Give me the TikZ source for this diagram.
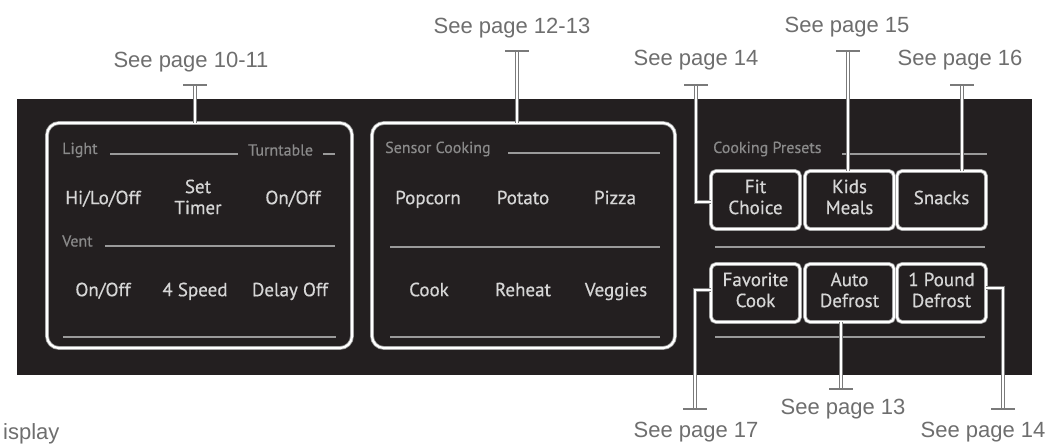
\documentclass[tikz,border=0pt]{standalone}
\usepackage{fontspec}
\setmainfont{Liberation Sans}
\newfontfamily\panelfont[FakeBold=0.5]{PT Sans}
\usepackage{tikz}
\usetikzlibrary{positioning}
\pgfdeclarelayer{nodelayer}
\pgfdeclarelayer{edgelayer}
\pgfsetlayers{nodelayer,edgelayer,main}
\definecolor{panelblack}{HTML}{231F20}
\definecolor{keygray}{HTML}{D6D6D6}
\definecolor{headgray}{HTML}{8A8A8A}
\definecolor{rulegray}{HTML}{9A9A9A}
\definecolor{rimgray}{HTML}{9C9C9C}
\definecolor{notegray}{HTML}{6E6E6E}
\definecolor{leadgray}{HTML}{7A7A7A}

\begin{document}
\begin{tikzpicture}[x=1pt, y=-1pt,
  note/.style={text=notegray, font=\fontsize{22}{24}\selectfont, inner sep=0pt},
  key/.style={text=keygray, font=\panelfont\fontsize{19}{21}\selectfont, align=center, inner sep=0pt,
    execute at begin node=\strut, execute at end node=\strut},
  head/.style={text=headgray, font=\panelfont\fontsize{16}{18}\selectfont, inner sep=0pt, anchor=west},
  rim/.style={draw=rimgray, double=white, double distance=2.2pt, line width=0.8pt},
  groupbox/.style={rim, rounded corners=12pt, minimum height=225pt},
  button/.style={rim, rounded corners=5pt, minimum width=89pt, minimum height=58pt,
    text=keygray, font=\panelfont\fontsize{19}{21}\selectfont, align=center, inner sep=0pt,
    execute at begin node=\strut, execute at end node=\strut},
  leader/.style={draw=leadgray, double=white, double distance=1.8pt, line width=1.1pt},
  tbar/.style={leadgray, line width=2.6pt},
  divider/.style={rulegray, line width=1.2pt}]
  \useasboundingbox (0, 0) rectangle (1058, 446);
  \begin{pgfonlayer}{nodelayer}
    \node [fill=panelblack, minimum width=1015pt, minimum height=276pt, inner sep=0pt] (0) at (524.5, 237) {};
    % dividers
    \draw [divider] (110, 154) -- (238, 154);
    \draw [divider] (323, 154) -- (335, 154);
    \draw [divider] (105, 246) -- (335, 246);
    \draw [divider] (63, 337) -- (336, 337);
    \draw [divider] (508, 153) -- (660, 153);
    \draw [divider] (390, 247) -- (660, 247);
    \draw [divider] (390, 337) -- (660, 337);
    \draw [divider] (842, 154) -- (987, 154);
    \draw [divider] (715, 247) -- (985, 247);
    \draw [divider] (715, 337) -- (985, 337);
    % boxes
    \node [groupbox, minimum width=305pt] (1) at (199.5, 235.5) {};
    \node [groupbox, minimum width=303pt] (2) at (523.5, 235.5) {};
    \node [button] (3) at (755.5, 200) {Fit\\Choice};
    \node [button] (4) at (849.5, 200) {Kids\\Meals};
    \node [button] (5) at (941.5, 200) {Snacks};
    \node [button] (6) at (755.5, 293) {Favorite\\Cook};
    \node [button] (7) at (849.5, 293) {Auto\\Defrost};
    \node [button] (8) at (941.5, 293) {1 Pound\\Defrost};
    % headers
    \node [head] (9) at (62, 150) {Light};
    \node [head] (10) at (248, 150) {Turntable};
    \node [head] (11) at (62, 241) {Vent};
    \node [head] (12) at (385, 149) {Sensor Cooking};
    \node [head] (13) at (713, 149) {Cooking Presets};
    % keys
    \node [key] (14) at (103, 200) {Hi/Lo/Off};
    \node [key] (15) at (198, 200) {Set\\Timer};
    \node [key] (16) at (293, 200) {On/Off};
    \node [key] (17) at (103, 292) {On/Off};
    \node [key] (18) at (195, 292) {4 Speed};
    \node [key] (19) at (290, 292) {Delay Off};
    \node [key] (20) at (428, 200) {Popcorn};
    \node [key] (21) at (523, 200) {Potato};
    \node [key] (22) at (615, 200) {Pizza};
    \node [key] (23) at (429, 292) {Cook};
    \node [key] (24) at (523, 292) {Reheat};
    \node [key] (25) at (616, 292) {Veggies};
    % page notes
    \node [note] (26) at (191, 62) {See page 10-11};
    \node [note] (27) at (512, 28) {See page 12-13};
    \node [note] (28) at (696, 60) {See page 14};
    \node [note] (29) at (847, 27) {See page 15};
    \node [note] (30) at (960, 60) {See page 16};
    \node [note] (31) at (696, 432) {See page 17};
    \node [note] (32) at (843, 409) {See page 13};
    \node [note] (33) at (983, 432) {See page 14};
    \node [note, anchor=west] (34) at (3, 434) {isplay};
    % tee ends
    \coordinate (35) at (195, 85);
    \coordinate (36) at (517, 51);
    \coordinate (37) at (696, 85);
    \coordinate (38) at (848, 51);
    \coordinate (39) at (962, 85);
    \coordinate (40) at (695, 409);
    \coordinate (41) at (841, 389);
    \coordinate (42) at (1003, 409);
  \end{pgfonlayer}
  \begin{pgfonlayer}{edgelayer}
    \draw [leader] (35) to (35 |- 1.north);
    \draw [leader] (36) to (36 |- 2.north);
    \draw [leader] (37) |- ([yshift=-2pt]3.west);
    \draw [leader] (38) to (38 |- 4.north);
    \draw [leader] (39) to (39 |- 5.north);
    \draw [leader] ([yshift=3pt]6.west) -| (40);
    \draw [leader] ([yshift=5pt]8.east) -| (42);
    \draw [leader] (41 |- 7.south) to (41);
    \foreach \t in {35,...,42}
      \draw [tbar] ([xshift=-12pt]\t) -- ([xshift=12pt]\t);
  \end{pgfonlayer}
\end{tikzpicture}
\end{document}
